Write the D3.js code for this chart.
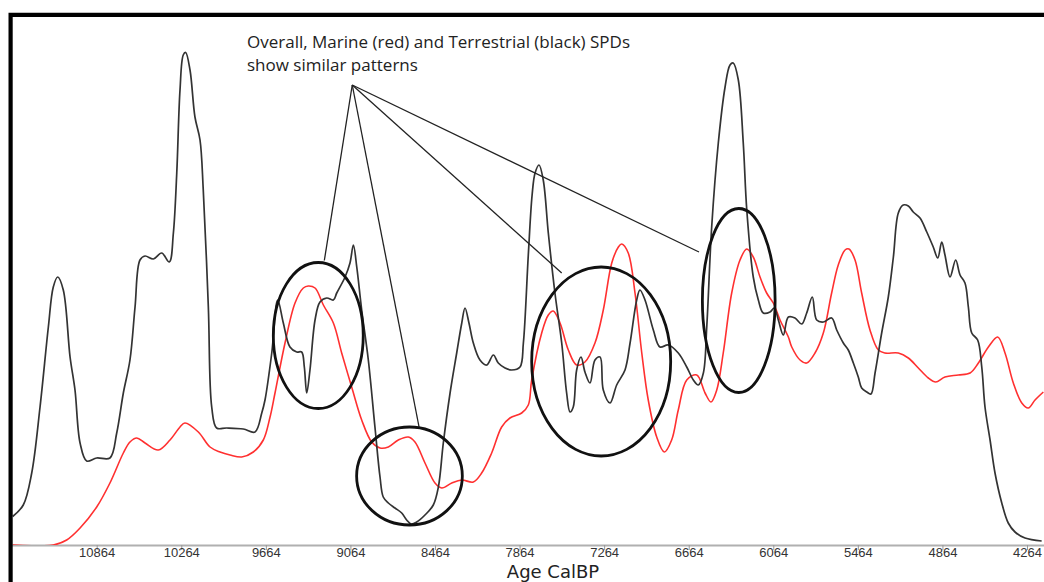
<!DOCTYPE html>
<html>
<head>
<meta charset="utf-8">
<script src="https://cdn.jsdelivr.net/npm/d3@7"></script>
<style>
  body { margin: 0; background: #fff; }
  svg { display: block; }
</style>
</head>
<body>
<div id="spd"></div>
<script>
// tick labels (Age CalBP)
const tickAges = [10864, 10264, 9664, 9064, 8464, 7864, 7264, 6664, 6064, 5464, 4864, 4264]

// terrestrial SPD (black) - [age, density]
const terrestrialAge = [11460,11385,11325,11266,11207,11172,11141,11101,11053,11018,10982,10935,10864,10770,10722,10675,10628,10592,10557,10521,10462,10403,10349,10320,10296,10273,10250,10233,10202,10167,10131,10108,10072,10048,10013,9942,9824,9741,9693,9670,9622,9580,9540,9493,9445,9410,9391,9374,9351,9315,9280,9232,9185,9161,9102,9067,9043,9019,8984,8937,8890,8854,8831,8795,8748,8700,8665,8634,8594,8535,8476,8440,8405,8357,8310,8274,8251,8223,8192,8145,8097,8050,8015,7967,7920,7861,7837,7802,7775,7754,7726,7696,7660,7613,7565,7530,7506,7483,7459,7428,7400,7364,7329,7293,7270,7222,7175,7116,7080,7033,7010,6974,6915,6868,6809,6738,6678,6631,6596,6560,6536,6501,6454,6406,6371,6348,6312,6277,6252,6206,6170,6135,6087,6057,6028,5993,5957,5910,5862,5827,5787,5756,5709,5650,5614,5567,5532,5496,5461,5437,5401,5371,5342,5295,5248,5212,5177,5142,5106,5071,5023,4975,4929,4897,4869,4846,4810,4770,4739,4704,4680,4656,4614,4585,4562,4526,4491,4443,4397,4349,4278,4160]
const terrestrialSpd = [5.7,8.0,14.4,27.6,43.6,51.6,53.6,51.0,37.6,31.0,20.4,16.8,17.4,17.4,22.4,30.4,37.0,47.6,57.0,57.8,57.2,58.4,56.6,62.4,74.4,91.0,98.0,98.5,95.0,85.6,81.0,71.0,47.6,27.6,23.4,23.4,23.2,22.6,26.4,29.0,38.4,49.0,44.4,39.6,38.6,38.6,35.6,30.4,35.0,45.0,48.6,49.4,49.0,50.4,53.6,56.4,60.0,55.6,47.0,37.0,23.6,13.6,9.6,8.4,7.4,6.4,5.0,4.2,4.6,6.0,8.0,11.6,20.4,30.4,38.4,44.4,47.4,44.4,40.4,37.0,36.0,38.0,36.4,35.4,35.0,35.6,40.4,58.0,70.0,74.4,76.0,73.0,62.4,50.4,40.4,30.4,26.6,27.6,35.0,37.6,34.6,32.4,37.0,37.6,31.0,28.4,32.0,35.0,40.4,49.0,51.0,49.0,43.0,39.6,40.0,38.4,35.6,33.0,32.0,34.4,43.6,63.6,80.4,91.6,96.0,96.4,93.0,80.4,67.0,53.6,49.0,46.4,46.6,47.4,45.0,42.0,45.6,45.4,44.2,46.4,49.6,45.0,44.6,45.4,43.0,40.4,39.0,36.4,33.6,31.4,30.6,30.2,34.4,42.4,49.6,57.6,66.4,68.0,67.8,66.6,65.4,62.6,59.6,57.4,60.6,58.0,53.6,57.0,54.0,52.4,47.6,42.4,41.0,35.6,27.6,21.0,14.4,8.4,4.4,2.6,1.4,0.8]

// marine SPD (red)
const marineAge = [11460,11172,11077,10982,10864,10770,10675,10628,10580,10521,10427,10344,10273,10238,10143,10060,9989,9918,9835,9753,9682,9635,9599,9528,9457,9398,9363,9315,9256,9185,9126,9055,8984,8913,8854,8795,8724,8653,8606,8535,8464,8416,8345,8274,8192,8133,8062,7991,7932,7849,7802,7778,7707,7660,7625,7577,7518,7459,7400,7329,7270,7210,7163,7139,7093,7045,6997,6951,6891,6837,6785,6738,6678,6607,6548,6506,6465,6419,6359,6300,6252,6206,6158,6111,6064,6016,5957,5933,5874,5827,5768,5709,5650,5603,5555,5527,5484,5437,5378,5319,5271,5177,5106,5035,4964,4912,4846,4751,4668,4609,4538,4472,4420,4361,4301,4255,4207,4148]
const marineSpd = [0,0,1.0,3.4,7.6,12.4,18.4,20.6,21.4,20.4,19.0,21.0,23.6,24.4,22.6,19.6,18.6,18.0,17.6,18.6,21.0,25.5,30.4,40.4,48.4,51.4,51.8,51.4,48.0,44.4,38.4,31.6,25.0,20.6,19.4,19.6,21.0,21.6,20.6,16.4,12.4,11.4,12.4,13.0,12.6,14.4,18.4,23.6,25.4,26.4,28.0,33.0,42.4,46.0,46.8,44.4,39.0,36.0,36.6,40.4,47.0,56.4,59.6,60.2,58.4,50.4,38.4,29.0,21.6,18.6,21.0,27.0,33.0,34.0,30.4,28.6,31.0,38.4,50.4,57.0,59.2,57.6,53.6,50.4,48.4,45.0,41.6,39.6,37.0,36.4,38.4,42.4,50.4,56.0,59.0,59.2,57.0,50.4,43.0,39.0,38.4,38.4,37.4,35.4,33.4,32.6,33.6,34.0,34.4,36.4,39.6,41.6,38.4,32.4,28.4,27.4,29.0,30.6]

// annotation circles: centre age, centre density, radius in years, radius in density
const circleAge = [9292, 8645, 7285, 6309]
const circleSpd = [41.9, 13.8, 36.7, 48.9]
const circleRadAge = [319, 375, 493, 258]
const circleRadSpd = [14.6, 9.8, 18.9, 18.4]

// pointer lines: one start, four ends
const pointerFrom = [9051, 92.0]
const pointerToAge = [9249, 8577, 7565, 6591]
const pointerToSpd = [56.9, 23.6, 54.4, 58.6]

const noteLines = ["Overall, Marine (red) and Terrestrial (black) SPDs", "show similar patterns"]

const w = 1044
const h = 582
const frameLeft = 12
const baseY = 545

const svg = d3.select("#spd")
    .append("svg")
    .attr("width", w)
    .attr("height", h)

// scales
const x = d3.scaleLinear()
    .domain([10864, 4264])
    .range([96.7, 1027])
const y = d3.scaleLinear()
    .domain([0, 100])
    .range([baseY, 45])

svg.append("clipPath")
    .attr("id", "plot-clip")
    .append("rect")
    .attr("x", frameLeft)
    .attr("y", 16)
    .attr("width", w - frameLeft)
    .attr("height", baseY - 16)

// x axis
const xAxis = svg.append("g")
    .attr("transform", `translate(0,${baseY})`)
    .call(d3.axisBottom(x).tickValues(tickAges).tickFormat(d3.format("d")).tickSizeInner(5).tickSizeOuter(0).tickPadding(-2))
xAxis.select(".domain")
    .attr("d", `M${frameLeft},0.5H${w}`)
    .attr("stroke", "#b0b0b0")
    .attr("stroke-width", 2)
xAxis.selectAll(".tick line")
    .attr("stroke", "#999")
xAxis.selectAll(".tick text")
    .attr("fill", "#333")
    .style("font-family", "'Liberation Sans', Arial, sans-serif")
    .style("font-size", "13px")

svg.append("text")
    .attr("x", 553)
    .attr("y", 578)
    .attr("text-anchor", "middle")
    .attr("fill", "#222")
    .style("font-family", "'DejaVu Sans', Verdana, sans-serif")
    .style("font-size", "18px")
    .text("Age CalBP")

// SPD lines
const line = d3.line()
    .x(d => x(d[0]))
    .y(d => y(d[1]))
    .curve(d3.curveCatmullRom.alpha(0.5))

const plot = svg.append("g").attr("clip-path", "url(#plot-clip)")

plot.append("path")
    .datum(marineAge.map((a, i) => [a, marineSpd[i]]))
    .attr("d", line)
    .attr("fill", "none")
    .attr("stroke", "#ff3030")
    .attr("stroke-width", 1.6)

plot.append("path")
    .datum(terrestrialAge.map((a, i) => [a, terrestrialSpd[i]]))
    .attr("d", line)
    .attr("fill", "none")
    .attr("stroke", "#333")
    .attr("stroke-width", 1.7)

// pointer lines
svg.selectAll(".pointer")
    .data(pointerToAge)
    .enter().append("line")
    .attr("class", "pointer")
    .attr("x1", x(pointerFrom[0]))
    .attr("y1", y(pointerFrom[1]))
    .attr("x2", d => x(d))
    .attr("y2", (d, i) => y(pointerToSpd[i]))
    .attr("stroke", "#222")
    .attr("stroke-width", 1.3)

// circles round the similar parts
svg.selectAll(".ring")
    .data(circleAge)
    .enter().append("ellipse")
    .attr("class", "ring")
    .attr("cx", d => x(d))
    .attr("cy", (d, i) => y(circleSpd[i]))
    .attr("rx", (d, i) => x(d - circleRadAge[i]) - x(d))
    .attr("ry", (d, i) => y(0) - y(circleRadSpd[i]))
    .attr("fill", "none")
    .attr("stroke", "#111")
    .attr("stroke-width", 2.8)

// note text
svg.selectAll(".note")
    .data(noteLines)
    .enter().append("text")
    .attr("class", "note")
    .attr("x", 247)
    .attr("y", (d, i) => 48 + i * 23)
    .attr("fill", "#222")
    .style("font-family", "'Open Sans', sans-serif")
    .style("font-size", "17px")
    .text(d => d)

// frame (top and left)
svg.append("path")
    .attr("d", `M10.6,${h}V14.8H${w}`)
    .attr("fill", "none")
    .attr("stroke", "#000")
    .attr("stroke-width", 4.2)
</script>
</body>
</html>
